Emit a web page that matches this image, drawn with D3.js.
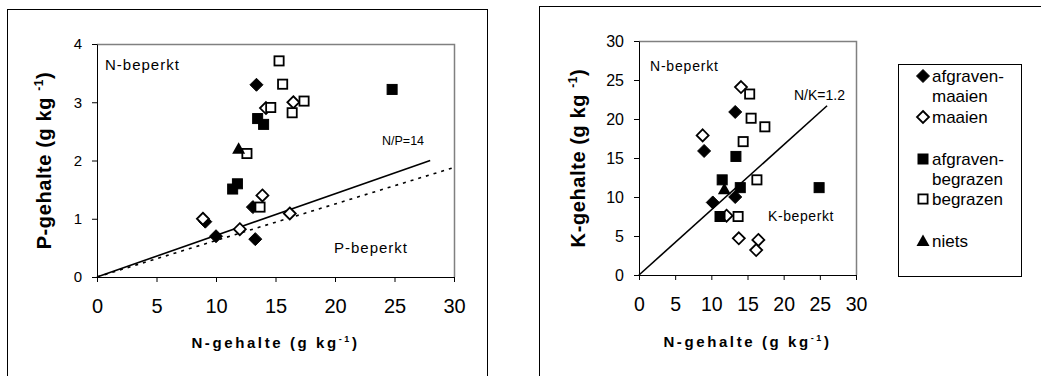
<!DOCTYPE html>
<html>
<head>
<meta charset="utf-8">
<script src="https://cdn.jsdelivr.net/npm/d3@7"></script>
<style>
  body { margin: 0; background: #fff; }
  svg { font-family: "Liberation Sans", Arial, sans-serif; }
</style>
</head>
<body>
<div class="chart"></div>
<script>
// series names (legend)
const seriesNames = ["afgraven-maaien", "maaien", "afgraven-begrazen", "begrazen", "niets"];
const legendLines = [["afgraven-", "maaien"], ["maaien"], ["afgraven-", "begrazen"], ["begrazen"], ["niets"]];

// N vs P  [N, P]
const npAfgravenMaaien = [[13.4, 3.3], [10.0, 0.7], [13.3, 0.65], [13.1, 1.2], [9.1, 0.95]];
const npMaaien = [[8.9, 1.0], [12.0, 0.82], [13.9, 1.4], [16.2, 1.09], [14.2, 2.9], [16.5, 3.0]];
const npAfgravenBegrazen = [[24.8, 3.22], [13.5, 2.72], [14.0, 2.62], [11.4, 1.51], [11.8, 1.6]];
const npBegrazen = [[15.3, 3.71], [15.6, 3.31], [14.6, 2.91], [17.4, 3.02], [16.4, 2.82], [12.6, 2.12], [13.7, 1.2]];
const npNiets = [[11.9, 2.2]];

// N vs K  [N, K]
const nkAfgravenMaaien = [[9.0, 15.9], [10.2, 9.3], [13.3, 20.9], [13.3, 10.0]];
const nkMaaien = [[8.8, 17.9], [14.1, 24.1], [12.1, 7.6], [13.8, 4.7], [16.5, 4.5], [16.2, 3.2]];
const nkAfgravenBegrazen = [[13.4, 15.2], [11.5, 12.2], [14.0, 11.2], [24.9, 11.2], [11.2, 7.5]];
const nkBegrazen = [[15.3, 23.2], [15.5, 20.1], [17.4, 19.0], [14.4, 17.1], [16.3, 12.2], [13.7, 7.5]];
const nkNiets = [[11.8, 11.0]];

// ratio lines
const npLine = [[0, 0], [28, 2]];          // N/P=14
const npDotted = [[0, 0], [30, 1.88]];
const nkLine = [[0, 0], [26, 21.7]];       // N/K=1.2

const xTicks = [0, 5, 10, 15, 20, 25, 30];
const pTicks = [0, 1, 2, 3, 4];
const kTicks = [0, 5, 10, 15, 20, 25, 30];

const svg = d3.select(".chart").append("svg")
  .attr("width", 1041)
  .attr("height", 376);

// outer frames
svg.append("rect").attr("x", 7.5).attr("y", 9.5).attr("width", 480).attr("height", 380)
  .attr("fill", "none").attr("stroke", "#000");
svg.append("rect").attr("x", 539.5).attr("y", 6.5).attr("width", 520).attr("height", 380)
  .attr("fill", "none").attr("stroke", "#000");

// marker shapes
function shape(type, sel) {
  if (type === 0 || type === 1) {
    const r = type === 0 ? 6.5 : 6;
    sel.append("path").attr("d", `M0,${-r}L${r},0L0,${r}L${-r},0Z`)
      .attr("fill", type === 0 ? "#000" : "#fff")
      .attr("stroke", "#000").attr("stroke-width", type === 0 ? 1 : 1.8);
  } else if (type === 2 || type === 3) {
    const s = type === 2 ? 5 : 4.6;
    sel.append("rect").attr("x", -s).attr("y", -s).attr("width", 2 * s).attr("height", 2 * s)
      .attr("fill", type === 2 ? "#000" : "#fff")
      .attr("stroke", "#000").attr("stroke-width", type === 2 ? 1 : 1.8);
  } else {
    sel.append("path").attr("d", "M0,-6.5L6.5,5L-6.5,5Z").attr("fill", "#000");
  }
}

function panel(o) {
  const g = svg.append("g");
  const x = d3.scaleLinear().domain([0, 30]).range([o.left, o.right]);
  const y = d3.scaleLinear().domain(o.yDomain).range([o.bottom, o.top]);

  // gray top/right border of plot area
  g.append("path")
    .attr("d", `M${o.left},${o.top + 0.5}H${o.right + 0.5}V${o.bottom}`)
    .attr("fill", "none").attr("stroke", "#808080").attr("stroke-width", 1.5);

  g.append("g")
    .attr("transform", `translate(0,${o.bottom})`)
    .call(d3.axisBottom(x).tickValues(xTicks).tickFormat(d3.format("d")).tickSize(5).tickSizeOuter(0).tickPadding(o.xPad))
    .call(a => a.selectAll("text").attr("font-size", o.xFont).attr("font-family", "Liberation Sans, Arial").attr("fill", "#000"))
    .call(a => a.selectAll("line, path").attr("stroke", "#000"));

  g.append("g")
    .attr("transform", `translate(${o.left},0)`)
    .call(d3.axisLeft(y).tickValues(o.yTicks).tickFormat(d3.format("d")).tickSize(5).tickSizeOuter(0).tickPadding(10))
    .call(a => a.selectAll("text").attr("font-size", o.yFont).attr("font-family", "Liberation Sans, Arial").attr("fill", "#000"))
    .call(a => a.selectAll("line, path").attr("stroke", "#000"));

  const line = d3.line().x(d => x(d[0])).y(d => y(d[1]));
  o.lines.forEach(l => {
    g.append("path").datum(l.data).attr("d", line)
      .attr("fill", "none").attr("stroke", "#000").attr("stroke-width", l.w)
      .attr("stroke-dasharray", l.dash || null);
  });

  o.series.forEach((s, i) => {
    g.append("g").selectAll("g")
      .data(s).enter().append("g")
      .attr("transform", d => `translate(${x(d[0])},${y(d[1])})`)
      .each(function () { shape(i, d3.select(this)); });
  });

  // annotations
  o.notes.forEach(n => {
    g.append("text").attr("x", n.x).attr("y", n.y).attr("font-size", n.size)
      .attr("letter-spacing", n.ls || 0).text(n.t);
  });

  // y title
  const yt = g.append("text")
    .attr("transform", `translate(${o.yTitleX},${(o.top + o.bottom) / 2}) rotate(-90)`)
    .attr("text-anchor", "middle").attr("font-weight", "bold").attr("font-size", 20)
    .attr("letter-spacing", 0.6);
  yt.append("tspan").text(o.yTitle + " (g kg ");
  yt.append("tspan").attr("font-size", 12).attr("dy", -8).text("-1");
  yt.append("tspan").attr("dy", 8).text(")");

  // x title
  const xt = g.append("text")
    .attr("x", (o.left + o.right) / 2).attr("y", o.xTitleY)
    .attr("text-anchor", "middle").attr("font-weight", "bold").attr("font-size", 15)
    .attr("letter-spacing", 2.6);
  xt.append("tspan").text("N-gehalte (g kg");
  xt.append("tspan").attr("font-size", 9).attr("dy", -6).text("-1");
  xt.append("tspan").attr("dy", 6).text(")");
}

panel({
  left: 97, right: 454, top: 44, bottom: 277,
  yDomain: [0, 4], yTicks: pTicks, xFont: 20, yFont: 15, xPad: 17,
  series: [npAfgravenMaaien, npMaaien, npAfgravenBegrazen, npBegrazen, npNiets],
  lines: [{ data: npLine, w: 1.6 }, { data: npDotted, w: 1.6, dash: "3,5" }],
  notes: [
    { x: 105, y: 70, t: "N-beperkt", size: 15, ls: 1 },
    { x: 334, y: 253, t: "P-beperkt", size: 15, ls: 1 },
    { x: 382, y: 145, t: "N/P=14", size: 12.5 }
  ],
  yTitle: "P-gehalte", yTitleX: 51, xTitleY: 348
});

panel({
  left: 639, right: 856, top: 41, bottom: 275,
  yDomain: [0, 30], yTicks: kTicks, xFont: 19.5, yFont: 16, xPad: 17,
  series: [nkAfgravenMaaien, nkMaaien, nkAfgravenBegrazen, nkBegrazen, nkNiets],
  lines: [{ data: nkLine, w: 1.6 }],
  notes: [
    { x: 650, y: 71, t: "N-beperkt", size: 14, ls: 0.8 },
    { x: 768, y: 221, t: "K-beperkt", size: 14, ls: 0.6 },
    { x: 794, y: 100, t: "N/K=1.2", size: 14 }
  ],
  yTitle: "K-gehalte", yTitleX: 585, xTitleY: 347
});

// legend
const legendY = [76, 117, 159, 199, 241];
const lg = svg.append("g");
lg.append("rect").attr("x", 898.5).attr("y", 64.5).attr("width", 123).attr("height", 212)
  .attr("fill", "#fff").attr("stroke", "#000");
seriesNames.forEach((name, i) => {
  const m = lg.append("g").attr("transform", `translate(923,${legendY[i]})`);
  shape(i, m);
  const t = lg.append("text").attr("x", 932).attr("y", legendY[i] + 6).attr("font-size", 17);
  legendLines[i].forEach((ln, j) => {
    t.append("tspan").attr("x", 932).attr("dy", j === 0 ? 0 : 19.5).text(ln);
  });
});
</script>
</body>
</html>
